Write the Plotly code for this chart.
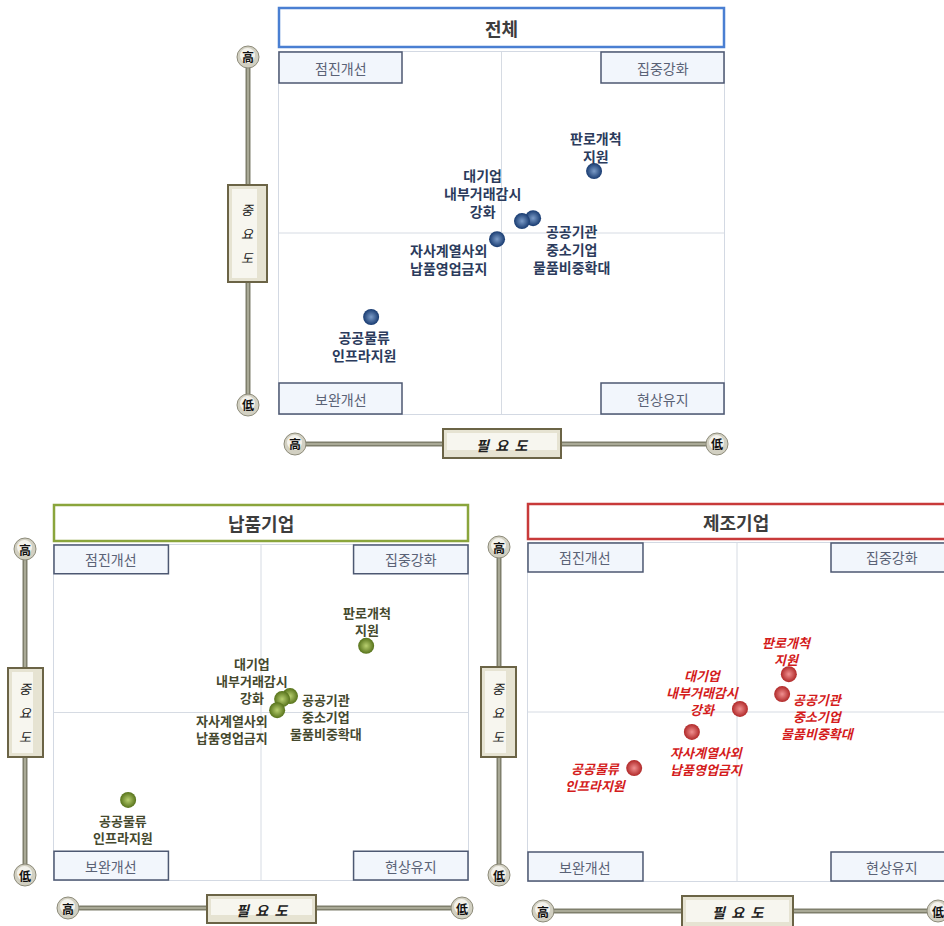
import plotly.graph_objects as go

# 항목 (점 라벨)
items = ["판로개척<br>지원", "공공기관<br>중소기업<br>물품비중확대", "대기업<br>내부거래감시<br>강화",
         "자사계열사외<br>납품영업금지", "공공물류<br>인프라지원"]

# x: 필요도, y: 중요도 (사분면 중심 = 0)
total_x = [20.8, 7.1, 4.6, -1.0, -29.3]
total_y = [17.1, 4.1, 3.3, -1.7, -23.2]
supplier_x = [25.4, 7.0, 5.1, 3.9, -32.1]
supplier_y = [19.9, 4.9, 4.0, 0.7, -26.1]
maker_x = [12.4, 10.8, 0.7, -10.8, -24.6]
maker_y = [11.2, 5.3, 0.9, -5.9, -16.6]

panel_titles = ["전체", "납품기업", "제조기업"]
quadrants = ["점진개선", "집중강화", "보완개선", "현상유지"]
axis_hi, axis_lo = "高", "低"

W, H = 944, 926
FONT = "Noto Sans CJK KR"


def px(x):
    return x / W


def py(y):
    return 1 - y / H


panels = [
    dict(xs=total_x, ys=total_y, plot=(279, 724, 52, 414), tbox=(279, 724, 8, 47),
         border="#4a7fd2", dot="#173a70", glow="#7c9cc8", lab="#2b3b5c", italic=False, fs=14,
         vrod=(248, 57, 405), vbox=(228, 267, 185, 282), hrod=(444, 295, 717), hbox=(443, 561, 429, 458),
         shifts=[(2, 24), (38, -31), (-39, 28), (-49, -20), (-7, -29)]),
    dict(xs=supplier_x, ys=supplier_y, plot=(54, 468, 545, 880), tbox=(54, 468, 505, 541),
         border="#8aa53c", dot="#56721a", glow="#b9d070", lab="#45492e", italic=False, fs=13,
         vrod=(25, 549, 875), vbox=(8, 43, 668, 757), hrod=(908, 68, 462), hbox=(207, 316, 895, 923),
         shifts=[(1, 25), (36, -20), (-30, 19), (-45, -19), (-5, -29)]),
    dict(xs=maker_x, ys=maker_y, plot=(528, 946, 543, 881), tbox=(528, 950, 504, 539),
         border="#c83a3a", dot="#b02828", glow="#f09090", lab="#d41c1c", italic=True, fs=13,
         vrod=(499, 547, 875), vbox=(481, 516, 667, 757), hrod=(911, 543, 938), hbox=(682, 793, 896, 930),
         shifts=[(-2, 23), (36, -22), (-37, 16), (15, -29), (-38, -9)]),
]

fig = go.Figure()
shapes = []
annos = []


def note(**kw):
    kw.setdefault("showarrow", False)
    kw.setdefault("xanchor", "center")
    kw.setdefault("yanchor", "middle")
    annos.append(kw)


for i, p in enumerate(panels):
    s = "" if i == 0 else str(i + 1)
    x0, x1, y0, y1 = p["plot"]
    cx = (x0 + x1) / 2
    x1c = min(x1, W)
    fig.add_trace(go.Scatter(
        x=p["xs"], y=p["ys"], mode="markers", xaxis="x" + s, yaxis="y" + s,
        marker=dict(size=16, color=p["dot"], line=dict(width=0),
                    gradient=dict(type="radial", color=p["glow"])),
        hoverinfo="skip", showlegend=False))
    ax = dict(domain=[px(x0), px(x1c)], range=[-50, 50 * (x1c - cx) / (cx - x0)], anchor="y" + s,
              showgrid=False, zeroline=False, showticklabels=False, ticks="",
              showline=True, mirror=True, linecolor="#d3d9e3", linewidth=1, fixedrange=True)
    ay = dict(domain=[py(y1), py(y0)], range=[-50, 50], anchor="x" + s,
              showgrid=False, zeroline=False, showticklabels=False, ticks="",
              showline=True, mirror=True, linecolor="#d3d9e3", linewidth=1, fixedrange=True)
    fig.update_layout(**{"xaxis" + s: ax, "yaxis" + s: ay})

    xd, yd = "x" + s + " domain", "y" + s + " domain"
    # 십자선
    shapes.append(dict(type="line", xref="x" + s, yref=yd, x0=0, x1=0, y0=0, y1=1,
                       line=dict(color="#d6dbe3", width=1), layer="below"))
    shapes.append(dict(type="line", xref=xd, yref="y" + s, x0=0, x1=1, y0=0, y1=0,
                       line=dict(color="#d6dbe3", width=1), layer="below"))

    # 사분면 라벨 상자
    bw = 123 / 445
    bh = 31 / 362
    corners = [(0, bw, 1 - bh, 1), (1 - bw, 1, 1 - bh, 1), (0, bw, 0, bh), (1 - bw, 1, 0, bh)]
    if i == 2:
        left = 1 - (944 - 831) / (944 - 528)
        corners[1] = (left, 1.02, 1 - bh, 1)
        corners[3] = (left, 1.02, 0, bh)
    for q, (a0, a1, b0, b1) in zip(quadrants, corners):
        shapes.append(dict(type="rect", xref=xd, yref=yd, x0=a0, x1=a1, y0=b0, y1=b1,
                           fillcolor="#f2f6fc", line=dict(color="#4d5872", width=1.5)))
        note(xref=xd, yref=yd, x=(a0 + a1) / 2, y=(b0 + b1) / 2, text=q,
             font=dict(family=FONT, size=14, color="#5a6276"))

    # 점 라벨
    for j, t in enumerate(items):
        txt = "<b>" + t.replace("<br>", "</b><br><b>") + "</b>"
        if p["italic"]:
            txt = "<i>" + txt.replace("<br>", "</i><br><i>") + "</i>"
        dx, dy = p["shifts"][j]
        note(xref="x" + s, yref="y" + s, x=p["xs"][j], y=p["ys"][j], text=txt,
             align="center", xshift=dx, yshift=dy,
             font=dict(family=FONT, size=p["fs"], color=p["lab"]))

    # 제목 상자
    tx0, tx1, ty0, ty1 = p["tbox"]
    shapes.append(dict(type="rect", xref="paper", yref="paper", x0=px(tx0), x1=px(tx1),
                       y0=py(ty1), y1=py(ty0), fillcolor="white",
                       line=dict(color=p["border"], width=2.5)))
    note(xref="paper", yref="paper", x=px((tx0 + min(tx1, W)) / 2), y=py((ty0 + ty1) / 2),
         text="<b>" + panel_titles[i] + "</b>", font=dict(family=FONT, size=18, color="#3d3d3d"))

    # 중요도 축 (세로)
    vx, vhi, vlo = p["vrod"]
    shapes.append(dict(type="line", xref="paper", yref="paper", x0=px(vx), x1=px(vx),
                       y0=py(vhi), y1=py(vlo), line=dict(color="#7f7f6c", width=5)))
    shapes.append(dict(type="line", xref="paper", yref="paper", x0=px(vx), x1=px(vx),
                       y0=py(vhi), y1=py(vlo), line=dict(color="#a9a996", width=2)))
    # 필요도 축 (가로)
    hy, hhi, hlo = p["hrod"]
    shapes.append(dict(type="line", xref="paper", yref="paper", x0=px(hhi), x1=px(hlo),
                       y0=py(hy), y1=py(hy), line=dict(color="#7f7f6c", width=5)))
    shapes.append(dict(type="line", xref="paper", yref="paper", x0=px(hhi), x1=px(hlo),
                       y0=py(hy), y1=py(hy), line=dict(color="#a9a996", width=2)))

    r = 11
    ends = [(vx, vhi, axis_hi), (vx, vlo, axis_lo), (hhi, hy, axis_hi), (hlo, hy, axis_lo)]
    for ex, ey, ch in ends:
        shapes.append(dict(type="circle", xref="paper", yref="paper",
                           x0=px(ex - r), x1=px(ex + r), y0=py(ey + r), y1=py(ey - r),
                           fillcolor="#d2d0c2", line=dict(color="#8d8b7a", width=1)))
        shapes.append(dict(type="circle", xref="paper", yref="paper",
                           x0=px(ex - r + 3), x1=px(ex + r - 4), y0=py(ey + r - 5), y1=py(ey - r + 2),
                           fillcolor="#f3f2ec", line=dict(width=0)))
        note(xref="paper", yref="paper", x=px(ex), y=py(ey), text="<b>" + ch + "</b>",
             font=dict(family=FONT, size=12, color="#111111"))

    bx0, bx1, by0, by1 = p["vbox"]
    shapes.append(dict(type="rect", xref="paper", yref="paper", x0=px(bx0), x1=px(bx1),
                       y0=py(by1), y1=py(by0), fillcolor="#e6e3d2", line=dict(color="#6b6446", width=2)))
    shapes.append(dict(type="rect", xref="paper", yref="paper", x0=px(bx0 + 4), x1=px(bx1 - 10),
                       y0=py(by1 - 4), y1=py(by0 + 4), fillcolor="#f7f6ef", line=dict(width=0)))
    for k, ch in enumerate("중요도"):
        note(xref="paper", yref="paper", x=px((bx0 + bx1) / 2),
             y=py((by0 + by1) / 2 + (k - 1) * 24), text="<i>" + ch + "</i>",
             font=dict(family=FONT, size=13, color="#222222"))

    hx0, hx1, hy0, hy1 = p["hbox"]
    shapes.append(dict(type="rect", xref="paper", yref="paper", x0=px(hx0), x1=px(hx1),
                       y0=py(hy1), y1=py(hy0), fillcolor="#e6e3d2", line=dict(color="#6b6446", width=2)))
    shapes.append(dict(type="rect", xref="paper", yref="paper", x0=px(hx0 + 4), x1=px(hx1 - 4),
                       y0=py(hy1 - 8), y1=py(hy0 + 4), fillcolor="#f7f6ef", line=dict(width=0)))
    note(xref="paper", yref="paper", x=px((hx0 + hx1) / 2), y=py((hy0 + min(hy1, H)) / 2 + 1),
         text="<b><i>필  요  도</i></b>", font=dict(family=FONT, size=14, color="#222222"))

fig.update_layout(width=W, height=H, margin=dict(l=0, r=0, t=0, b=0),
                  paper_bgcolor="white", plot_bgcolor="white",
                  shapes=shapes, annotations=annos, showlegend=False,
                  font=dict(family=FONT))

# 페이지 기본 여백 제거
fig.write_html("out.html", config={"displayModeBar": False},
               post_script="document.body.style.margin='0';")
